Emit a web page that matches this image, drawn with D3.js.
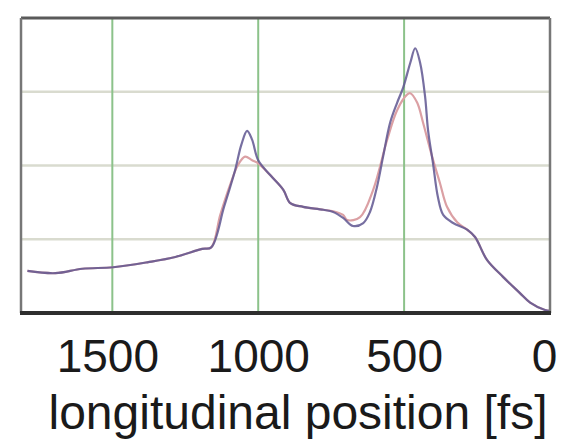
<!DOCTYPE html>
<html>
<head>
<meta charset="utf-8">
<script src="https://cdn.jsdelivr.net/npm/d3@7"></script>
<style>
  html, body { margin: 0; padding: 0; background: #fff; }
  svg { display: block; }
</style>
</head>
<body>
<svg id="chart" width="567" height="440"></svg>
<script>
// Longitudinal current profiles, position in fs (head at 0)
const xTicks = [1500, 1000, 500, 0];
const xLabel = "longitudinal position [fs]";

// Profile A (blue)
const blueFs  = [1791, 1695, 1603, 1497, 1377, 1284, 1192, 1161, 1117, 1079, 1058, 1038, 1021, 1000, 959, 914, 890, 846, 777, 743, 709, 675, 640, 617, 593, 572, 548, 524, 503, 479, 462, 445, 428, 418, 401, 384, 366, 332, 284, 257, 216, 161, 103, 68, 17, 0];
const blueVal = [0.57, 0.54, 0.60, 0.62, 0.69, 0.76, 0.87, 0.89, 1.44, 1.94, 2.28, 2.47, 2.35, 2.07, 1.87, 1.67, 1.49, 1.44, 1.40, 1.37, 1.29, 1.18, 1.22, 1.37, 1.71, 2.12, 2.58, 2.85, 3.06, 3.39, 3.59, 3.39, 2.93, 2.48, 2.03, 1.57, 1.33, 1.22, 1.13, 1.03, 0.72, 0.49, 0.27, 0.14, 0.04, 0.03];

// Profile B (red)
const redFs  = [1791, 1695, 1603, 1497, 1377, 1284, 1192, 1161, 1130, 1096, 1069, 1045, 1021, 1000, 959, 914, 890, 846, 777, 743, 709, 695, 651, 606, 558, 524, 490, 479, 455, 435, 404, 377, 353, 318, 284, 257, 216, 161, 103, 68, 17, 0];
const redVal = [0.57, 0.54, 0.60, 0.62, 0.69, 0.76, 0.87, 0.89, 1.33, 1.74, 2.01, 2.12, 2.07, 2.03, 1.87, 1.67, 1.49, 1.44, 1.40, 1.38, 1.33, 1.26, 1.30, 1.67, 2.35, 2.75, 2.96, 2.98, 2.85, 2.58, 2.12, 1.76, 1.44, 1.23, 1.13, 1.03, 0.72, 0.49, 0.27, 0.14, 0.04, 0.03];

const yGrid = [1, 2, 3];

const svg = d3.select("#chart");
const plotLeft = 21, plotRight = 550, plotTop = 18, plotBottom = 313;

const x = d3.scaleLinear().domain([1813, 0]).range([plotLeft, plotRight]);
const y = d3.scaleLinear().domain([0, 4]).range([plotBottom, plotTop]);

// horizontal grid
svg.append("g").selectAll("line").data(yGrid).join("line")
  .attr("x1", plotLeft).attr("x2", plotRight)
  .attr("y1", d => y(d)).attr("y2", d => y(d))
  .attr("stroke", "#d9dbcf").attr("stroke-width", 2.5);

// vertical grid
svg.append("g").selectAll("line").data(xTicks.filter(d => d > 0)).join("line")
  .attr("x1", d => x(d)).attr("x2", d => x(d))
  .attr("y1", plotTop).attr("y2", plotBottom)
  .attr("stroke", "#8cc28a").attr("stroke-width", 2);

const line = d3.line().curve(d3.curveCatmullRom.alpha(0.5));

const redPts = redFs.map((f, i) => [x(f), y(redVal[i])]);
const bluePts = blueFs.map((f, i) => [x(f), y(blueVal[i])]);

svg.append("path").attr("d", line(redPts))
  .attr("fill", "none").attr("stroke", "#dba0a4").attr("stroke-width", 2.2);
svg.append("path").attr("d", line(bluePts))
  .attr("fill", "none").attr("stroke", "#5f5690").attr("stroke-width", 2.2)
  .attr("stroke-opacity", 0.85);

// frame
svg.append("line").attr("x1", plotLeft).attr("x2", plotRight).attr("y1", plotTop).attr("y2", plotTop)
  .attr("stroke", "#5a5a5a").attr("stroke-width", 3);
svg.append("line").attr("x1", plotLeft).attr("x2", plotLeft).attr("y1", plotTop).attr("y2", plotBottom)
  .attr("stroke", "#777").attr("stroke-width", 2.5);
svg.append("line").attr("x1", plotRight).attr("x2", plotRight).attr("y1", plotTop).attr("y2", plotBottom)
  .attr("stroke", "#777").attr("stroke-width", 2.5);

// bottom axis
const xAxis = d3.axisBottom(x).tickValues(xTicks).tickSize(0).tickPadding(0)
  .tickFormat(d3.format("d"));
const ax = svg.append("g").attr("transform", `translate(0,${plotBottom})`).call(xAxis);
ax.select(".domain").attr("stroke", "#2e2e2e").attr("stroke-width", 4)
  .attr("d", `M${plotLeft - 1},0H${plotRight + 1}`);
ax.selectAll("text")
  .attr("font-family", "'Liberation Sans', Arial, sans-serif")
  .attr("font-size", 46).attr("fill", "#1a1a1a")
  .attr("dy", null).attr("y", 59)
  .attr("dx", d => d === 0 ? -6 : (d === 1500 ? -5 : 0));

svg.append("text")
  .attr("x", 298).attr("y", 429)
  .attr("text-anchor", "middle")
  .attr("font-family", "'Liberation Sans', Arial, sans-serif")
  .attr("font-size", 48).attr("fill", "#1a1a1a")
  .text(xLabel);
</script>
</body>
</html>
